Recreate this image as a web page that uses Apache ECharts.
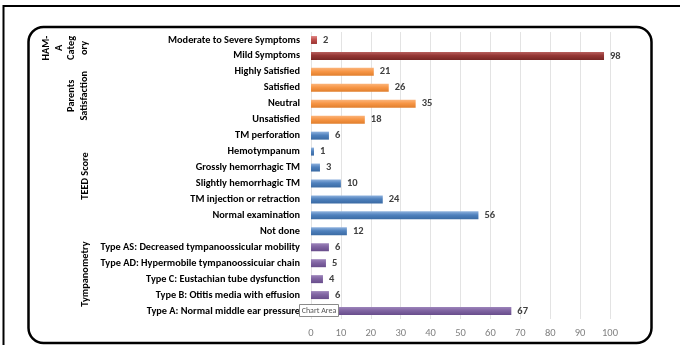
<!DOCTYPE html>
<html><head><meta charset="utf-8">
<script src="https://cdn.jsdelivr.net/npm/echarts@6/dist/echarts.min.js"></script>
<style>html,body{margin:0;padding:0;background:#fff}#c{width:680px;height:345px}</style>
</head><body><div id="c"></div>
<script>
const categories = [
  "Moderate to Severe Symptoms", "Mild Symptoms",
  "Highly Satisfied", "Satisfied", "Neutral", "Unsatisfied",
  "TM perforation", "Hemotympanum", "Grossly hemorrhagic TM", "Slightly hemorrhagic TM",
  "TM injection or retraction", "Normal examination", "Not done",
  "Type AS: Decreased tympanoossicular mobility", "Type AD: Hypermobile tympanoossicuiar chain",
  "Type C: Eustachian tube dysfunction", "Type B: Otitis media with effusion",
  "Type A: Normal middle ear pressure"
];
const values = [2, 98, 21, 26, 35, 18, 6, 1, 3, 10, 24, 56, 12, 6, 5, 4, 6, 67];
const groupNames = ["HAM-\nA\nCateg\nory", "Parents\nSatisfaction", "TEED Score", "Tympanometry"];
const groupOf = [0, 0, 1, 1, 1, 1, 2, 2, 2, 2, 2, 2, 2, 3, 3, 3, 3, 3];
const xTicks = [0, 10, 20, 30, 40, 50, 60, 70, 80, 90, 100];

// styles
const barColors = [
  ["#c0504d", "#e08a88", "#9a3431"], ["#953735", "#b8605e", "#772725"],
  null, null, null, null, null, null, null, null, null, null, null, null, null, null, null, null
];
const groupColors = [null, ["#f79646", "#fbb47a", "#e07e2c"], ["#4f81bd", "#8fb2de", "#3a6aa3"], ["#8064a2", "#9c84ba", "#684d8b"]];
const groupLabelX = [65.5, 78, 85, 85];
const groupLabelDy = [0, 0, -7.5, -5];

function grad(c) {
  return new echarts.graphic.LinearGradient(0, 0, 0, 1, [
    { offset: 0, color: c[1] }, { offset: 0.45, color: c[0] }, { offset: 1, color: c[2] }
  ]);
}

const chart = echarts.init(document.getElementById('c'), null, { renderer: 'canvas' });
const font = 'Carlito,"Liberation Sans",sans-serif';

const option = {
  animation: false,
  backgroundColor: '#fff',
  grid: { left: 311, right: 70, top: 32, bottom: 26, containLabel: false },
  xAxis: {
    type: 'value', min: 0, max: 100, interval: 10,
    axisLine: { show: false }, axisTick: { show: false },
    splitLine: { lineStyle: { color: '#e3e3e3', width: 1 } },
    axisLabel: { color: '#808080', fontSize: 10.5, fontFamily: font, margin: 9,
      formatter: v => xTicks.includes(v) ? String(v) : '' }
  },
  yAxis: {
    type: 'category', data: categories, inverse: true,
    axisLine: { show: false }, axisTick: { show: false },
    axisLabel: { color: '#000', fontSize: 10.3, fontWeight: 'bold', fontFamily: font, margin: 11 }
  },
  series: [{
    type: 'bar', barWidth: 8,
    data: values.map((v, i) => ({
      value: v,
      itemStyle: { color: grad(barColors[i] || groupColors[groupOf[i]]) }
    })),
    label: { show: true, position: 'right', distance: 6, color: '#404040', fontSize: 10.5,
      fontWeight: 'bold', fontFamily: font }
  }]
};
chart.setOption(option);

// group labels + frames
const graphics = [];
groupNames.forEach((name, g) => {
  const idx = groupOf.map((x, i) => x === g ? i : -1).filter(i => i >= 0);
  const y0 = chart.convertToPixel({ yAxisIndex: 0 }, idx[0]);
  const y1 = chart.convertToPixel({ yAxisIndex: 0 }, idx[idx.length - 1]);
  graphics.push({
    type: 'text', x: groupLabelX[g], y: (y0 + y1) / 2 + groupLabelDy[g], rotation: Math.PI / 2,
    style: { text: name, fill: '#000', font: 'bold 10.3px ' + font, align: 'center', verticalAlign: 'middle', lineHeight: 12.5 },
    z: 10
  });
});
graphics.push({
  type: 'rect', shape: { x: 3.5, y: 6, width: 700, height: 400 },
  style: { fill: 'none', stroke: '#000', lineWidth: 2 }, silent: true, z: 20
});
graphics.push({
  type: 'rect', shape: { x: 28.5, y: 27, width: 623, height: 316, r: 15 },
  style: { fill: 'none', stroke: '#000', lineWidth: 2.5 }, silent: true, z: 20
});
graphics.push({
  type: 'group', z: 30, children: [
    { type: 'rect', shape: { x: 299.5, y: 304.5, width: 39, height: 12 },
      style: { fill: '#fff', stroke: '#8a8a8a', lineWidth: 1 }, z: 30 },
    { type: 'text', x: 319, y: 310.5,
      style: { text: 'Chart Area', fill: '#555', font: '8px ' + font, align: 'center', verticalAlign: 'middle' }, z: 31 }
  ]
});
chart.setOption({ graphic: graphics });
</script>
</body></html>
